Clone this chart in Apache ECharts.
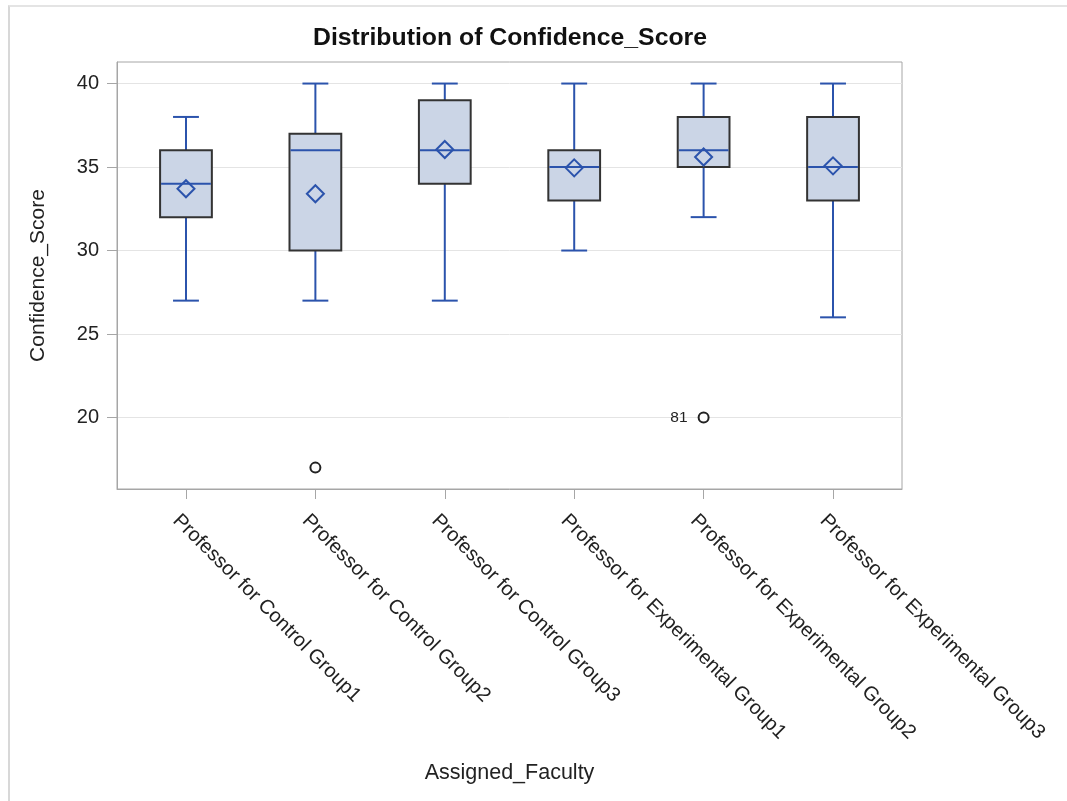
<!DOCTYPE html>
<html>
<head>
<meta charset="utf-8">
<title>Distribution of Confidence_Score</title>
<script src="https://cdn.jsdelivr.net/npm/echarts@6/dist/echarts.min.js"></script>
<style>
  html, body { margin: 0; padding: 0; background: #fff; }
  #frame {
    position: absolute; left: 8px; top: 5px; right: 0; bottom: 0;
    border-left: 2px solid #d8d8d8; border-top: 2px solid #e4e4e4;
  }
  #chart { position: absolute; left: 0; top: 0; width: 1067px; height: 801px; }
</style>
</head>
<body>
<div id="frame"></div>
<div id="chart"></div>
<script>
// Faculty groups on the horizontal axis
const categories = [
  'Professor for Control Group1',
  'Professor for Control Group2',
  'Professor for Control Group3',
  'Professor for Experimental Group1',
  'Professor for Experimental Group2',
  'Professor for Experimental Group3'
];

// Five-number summaries of Confidence_Score per group
const whiskerLow  = [27, 27, 27, 30, 32, 26];
const quartile1   = [32, 30, 34, 33, 35, 33];
const medians     = [34, 36, 36, 35, 36, 35];
const quartile3   = [36, 37, 39, 36, 38, 38];
const whiskerHigh = [38, 40, 40, 40, 40, 40];

// Group means (diamond markers)
const means = [33.7, 33.4, 36.05, 34.95, 35.6, 35.07];

// Outliers: [group index, score, observation label]
const outliers = [
  [1, 17, ''],
  [4, 20, '81']
];

// Y tick labels
const yTicks = [20, 25, 30, 35, 40];

const BLUE = '#2b53ac';
const FONT = '"Liberation Sans", Arial, sans-serif';

const groupIndex = categories.map((_, i) => i);
// rotated labels start slightly to the left of their tick
const labelAnchors = groupIndex.map(i => i - 0.077);

const boxData = categories.map((_, i) =>
  [i, whiskerLow[i], quartile1[i], medians[i], quartile3[i], whiskerHigh[i]]);

function renderBox(params, api) {
  const x = api.value(0);
  const lo = api.coord([x, api.value(1)]);
  const q1 = api.coord([x, api.value(2)]);
  const md = api.coord([x, api.value(3)]);
  const q3 = api.coord([x, api.value(4)]);
  const hi = api.coord([x, api.value(5)]);
  const w = api.size([1, 0])[0] * 0.4;
  const cx = lo[0];
  const lineStyle = { stroke: BLUE, lineWidth: 2, fill: null };
  return {
    type: 'group',
    children: [
      { type: 'line', shape: { x1: cx, y1: q1[1], x2: cx, y2: lo[1] }, style: lineStyle },
      { type: 'line', shape: { x1: cx, y1: q3[1], x2: cx, y2: hi[1] }, style: lineStyle },
      { type: 'line', shape: { x1: cx - w / 4, y1: lo[1], x2: cx + w / 4, y2: lo[1] }, style: lineStyle },
      { type: 'line', shape: { x1: cx - w / 4, y1: hi[1], x2: cx + w / 4, y2: hi[1] }, style: lineStyle },
      { type: 'rect', shape: { x: cx - w / 2, y: q3[1], width: w, height: q1[1] - q3[1] },
        style: { fill: '#cbd5e6', stroke: '#333333', lineWidth: 2 } },
      { type: 'line', shape: { x1: cx - w / 2 + 1, y1: md[1], x2: cx + w / 2 - 1, y2: md[1] }, style: lineStyle }
    ]
  };
}

const chart = echarts.init(document.getElementById('chart'), null, { renderer: 'canvas' });

chart.setOption({
  backgroundColor: 'transparent',
  animation: false,
  title: {
    text: 'Distribution of Confidence_Score',
    left: 505,
    textAlign: 'center',
    top: 21,
    textStyle: { fontFamily: FONT, fontSize: 24.8, fontWeight: 'bold', color: '#111' }
  },
  grid: {
    left: 117, right: 165, top: 62, bottom: 312,
    show: true, borderColor: '#a6a6a6', borderWidth: 1,
    containLabel: false, outerBoundsMode: 'none'
  },
  xAxis: {
    type: 'value',
    min: -0.533,
    max: 5.533,
    name: 'Assigned_Faculty',
    nameLocation: 'middle',
    nameGap: 273,
    nameTextStyle: { fontFamily: FONT, fontSize: 21.5, color: '#222' },
    axisLine: { show: true, onZero: false, lineStyle: { color: '#a6a6a6' } },
    axisTick: { show: true, length: 10, lineStyle: { color: '#a6a6a6' },
      customValues: groupIndex },
    axisLabel: {
      customValues: labelAnchors,
      formatter: v => categories[Math.round(v)],
      rotate: -45,
      margin: 28.5,
      fontFamily: FONT, fontSize: 20, color: '#222'
    },
    splitLine: { show: false }
  },
  yAxis: {
    type: 'value',
    min: 15.72,
    max: 41.29,
    name: 'Confidence_Score',
    nameLocation: 'middle',
    nameGap: 68,
    nameTextStyle: { fontFamily: FONT, fontSize: 21, color: '#222' },
    axisLine: { show: true, onZero: false, lineStyle: { color: '#a6a6a6' } },
    axisTick: { show: true, length: 10, lineStyle: { color: '#a6a6a6' }, customValues: yTicks },
    axisLabel: { customValues: yTicks, margin: 18, fontFamily: FONT, fontSize: 20, color: '#222' },
    splitLine: { show: true, lineStyle: { color: '#e4e4e4', width: 1 } }
  },
  series: [
    {
      type: 'custom',
      renderItem: renderBox,
      encode: { x: 0, y: [1, 2, 3, 4, 5] },
      data: boxData,
      z: 2
    },
    {
      type: 'scatter',
      symbol: 'diamond',
      symbolSize: 17,
      itemStyle: { color: 'rgba(0,0,0,0)', borderColor: BLUE, borderWidth: 2, opacity: 1 },
      data: means.map((m, i) => [i, m]),
      z: 3
    },
    {
      type: 'scatter',
      symbol: 'circle',
      symbolSize: 10,
      itemStyle: { color: '#ffffff', borderColor: '#222', borderWidth: 2, opacity: 1 },
      label: {
        show: true,
        position: 'left',
        distance: 10,
        formatter: p => p.data[2],
        fontFamily: FONT, fontSize: 15.5, color: '#222'
      },
      data: outliers,
      z: 4
    }
  ]
});
</script>
</body>
</html>
